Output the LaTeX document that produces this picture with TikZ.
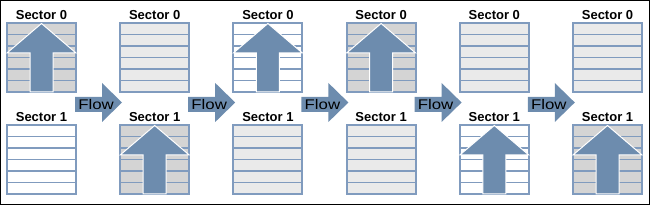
\documentclass[tikz,border=0pt]{standalone}
\usepackage{fontspec}
\setmainfont{Liberation Sans}
\definecolor{azul}{RGB}{109,140,174}
\definecolor{borde}{RGB}{128,155,190}
\definecolor{gris}{RGB}{212,212,212}
\definecolor{grisclaro}{RGB}{234,234,234}
\tikzset{
  fila/.style={borde, line width=1.3},
  marco/.style={borde, line width=2},
  flechaup/.style={fill=azul, draw=white, line width=1, line join=miter},
  etiqueta/.style={anchor=base, inner sep=0pt, font=\fontsize{13}{13}\selectfont\bfseries},
  flujo/.style={fill=azul},
  flujotxt/.style={inner sep=0pt, xscale=1.2, font=\fontsize{14}{14}\selectfont}
}
% bloque: x, y, relleno, flecha (1/0), texto, nombre
\newcommand{\bloque}[6]{%
  \fill[#3] (#1,#2) rectangle ++(69,69);
  \foreach \k in {1,...,5} \draw[fila] (#1,#2+\k*11.5) -- ++(69,0);
  \draw[marco] (#1,#2) rectangle ++(69,69);
  \ifnum#4=1
    \filldraw[flechaup] (#1+34.5,#2+0.5) -- ++(34.5,29.5) -- ++(-23,0) -- ++(0,39)
      -- ++(-23,0) -- ++(0,-39) -- ++(-23,0) -- cycle;
  \fi
  \node[etiqueta] (#6) at (#1+34.5,#2-3) {#5};
}
\begin{document}
\begin{tikzpicture}[x=1pt, y=-1pt]
  \useasboundingbox (0,0) rectangle (650,205);
  % Marco exterior
  \draw[line width=1] (0.5,0.5) rectangle (649.5,204.5);

  % Columnas de sectores
  \foreach \i/\ca/\fa/\cb/\fb in {0/gris/1/white/0, 1/grisclaro/0/gris/1,
      2/white/1/grisclaro/0, 3/gris/1/grisclaro/0,
      4/grisclaro/0/white/1, 5/grisclaro/0/gris/1} {
    \bloque{7+113.2*\i}{23}{\ca}{\fa}{Sector 0}{s0-\i}
    \bloque{7+113.2*\i}{125}{\cb}{\fb}{Sector 1}{s1-\i}
  }

  % Flechas de flujo
  \foreach \i in {0,...,4} {
    \fill[flujo] (75+113.2*\i,97) -- ++(27,0) -- ++(0,-14) -- ++(20,19.5)
      -- ++(-20,19.5) -- ++(0,-10) -- ++(-27,0) -- cycle;
    \node[flujotxt] (flow\i) at (96+113.2*\i,104.5) {Flow};
  }
\end{tikzpicture}
\end{document}
